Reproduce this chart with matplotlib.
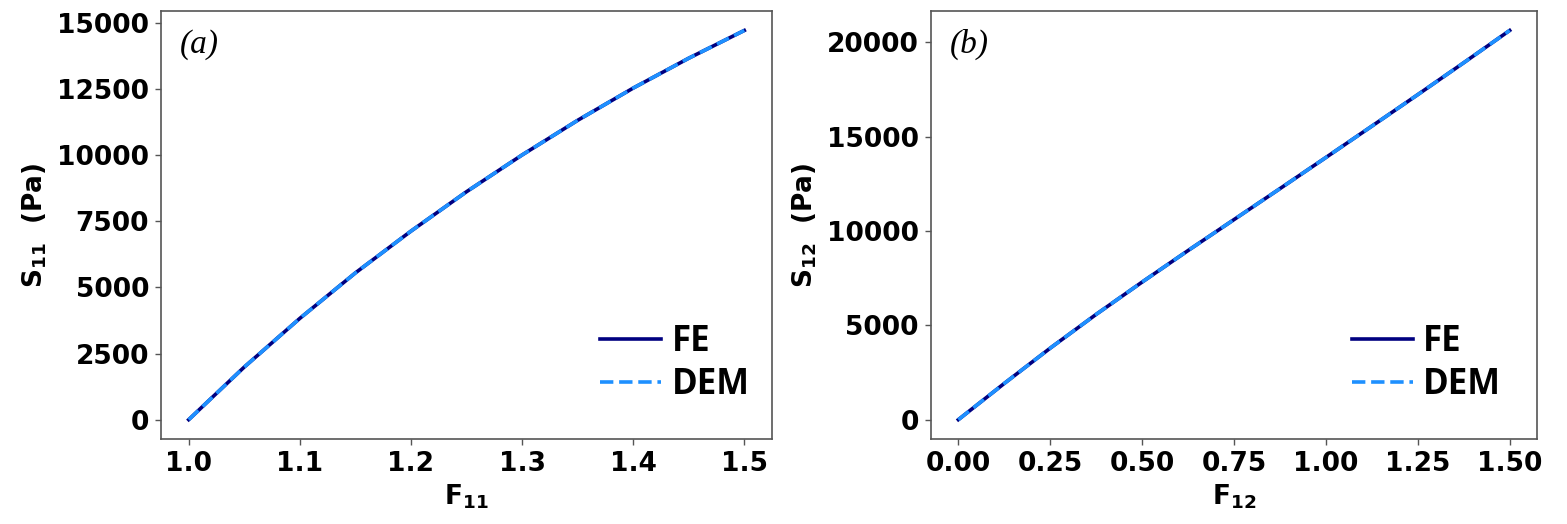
import matplotlib
matplotlib.use("Agg")
import matplotlib.pyplot as plt
import numpy as np

# uniaxial stretch (a)
F11 = [1.0, 1.05, 1.1, 1.15, 1.2, 1.25, 1.3, 1.35, 1.4, 1.45, 1.5]
S11_fe = [0, 1990, 3830, 5550, 7130, 8620, 10010, 11320, 12540, 13670, 14720]
S11_dem = [0, 1990, 3830, 5550, 7130, 8620, 10010, 11320, 12540, 13670, 14720]

# simple shear (b)
F12 = [0.0, 0.125, 0.25, 0.375, 0.5, 0.625, 0.75, 0.875, 1.0, 1.125, 1.25, 1.375, 1.5]
S12_fe = [0, 1920, 3790, 5580, 7290, 8960, 10600, 12240, 13890, 15550, 17220, 18910, 20620]
S12_dem = [0, 1920, 3790, 5580, 7290, 8960, 10600, 12240, 13890, 15550, 17220, 18910, 20620]

c_fe = "#000080"
c_dem = "#1E90FF"
spine_col = "#555555"

fig = plt.figure(figsize=(15.67, 5.24), dpi=100)
ax1 = fig.add_axes([0.1027, 0.162, 0.390, 0.817])
ax2 = fig.add_axes([0.594, 0.162, 0.387, 0.817])

def style_ax(ax, xlab, ylab, tag, leg_x):
    for s in ax.spines.values():
        s.set_color(spine_col)
        s.set_linewidth(1.2)
    ax.tick_params(axis="both", labelsize=19, length=4.5, width=1.0, color=spine_col, pad=4)
    for lab in ax.get_xticklabels() + ax.get_yticklabels():
        lab.set_fontweight("bold")
    ax.set_xlabel(xlab, fontsize=19, fontweight="bold", labelpad=4)
    ax.set_ylabel(ylab, fontsize=19, fontweight="bold", labelpad=6)
    ax.text(0.031, 0.958, tag, transform=ax.transAxes, ha="left", va="top",
            fontsize=24, style="italic", family="Liberation Serif")
    ax.legend(loc="lower left", bbox_to_anchor=(leg_x, 0.035), frameon=False,
              prop={"family": "Open Sans", "weight": "bold", "size": 25},
              handlelength=1.75, handletextpad=0.3, labelspacing=0.22,
              borderaxespad=0.2)

ax1.plot(F11, S11_fe, color=c_fe, lw=2.6, label="FE")
ax1.plot(F11, S11_dem, color=c_dem, lw=2.6, ls="--", label="DEM")
ax1.set_xticks([1.0, 1.1, 1.2, 1.3, 1.4, 1.5])
ax1.set_yticks([0, 2500, 5000, 7500, 10000, 12500, 15000])
style_ax(ax1, r"$\mathbf{F_{11}}$", r"$\mathbf{S_{11}}$  (Pa)", "(a)", 0.685)

ax2.plot(F12, S12_fe, color=c_fe, lw=2.6, label="FE")
ax2.plot(F12, S12_dem, color=c_dem, lw=2.6, ls="--", label="DEM")
ax2.set_xticks([0.0, 0.25, 0.5, 0.75, 1.0, 1.25, 1.5])
ax2.set_xticklabels(["0.00", "0.25", "0.50", "0.75", "1.00", "1.25", "1.50"])
ax2.set_yticks([0, 5000, 10000, 15000, 20000])
style_ax(ax2, r"$\mathbf{F_{12}}$", r"$\mathbf{S_{12}}$  (Pa)", "(b)", 0.66)

fig.savefig("out.png", dpi=100)
